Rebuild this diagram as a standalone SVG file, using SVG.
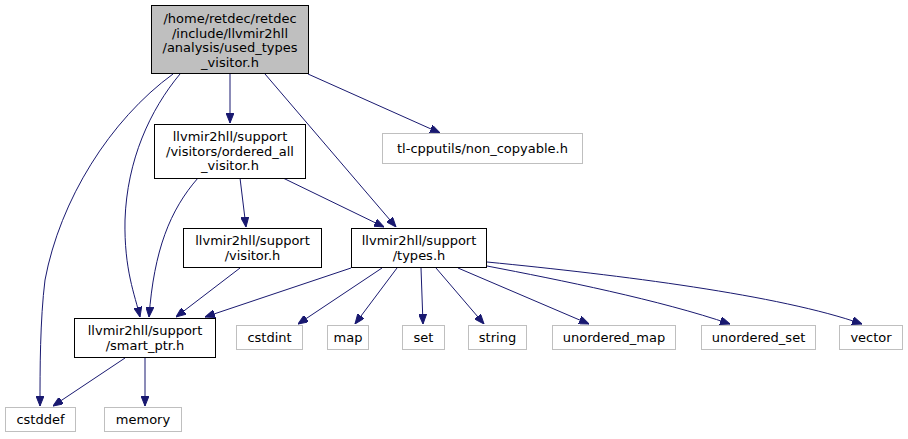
<svg xmlns="http://www.w3.org/2000/svg" width="908" height="439" viewBox="0 0 908 439">
<style>
text{font-family:"DejaVu Sans",sans-serif;font-size:13px;text-anchor:middle;fill:#000}
.n rect{fill:#fff;stroke:#000;stroke-width:1}
.g rect{fill:#fff;stroke:#bfbfbf;stroke-width:1}
.m rect{fill:#bfbfbf;stroke:#000;stroke-width:1}
#edges path{fill:none;stroke:#191970;stroke-width:1;marker-end:url(#ah)}
</style>
<defs>
<marker id="ah" viewBox="0 0 10 8" refX="10" refY="4" markerWidth="10" markerHeight="8" markerUnits="userSpaceOnUse" orient="auto">
<path d="M0,0 L10,4 L0,8 Z" fill="#191970" stroke="#191970"/>
</marker>
</defs>
<rect width="908" height="439" fill="#fff"/>
<g id="edges">
<path d="M173,74 C110,120 60,200 45,280 C40,320 40,370 40,406"/>
<path d="M180,74 C150,110 127,160 125,220 C124,270 135,295 140,317"/>
<path d="M230,74 L230,123"/>
<path d="M265,74 L396,227"/>
<path d="M308,74 L440,133"/>
<path d="M240,178 L246,227"/>
<path d="M283,178 L384,227"/>
<path d="M198,178 C170,210 154,250 149,317"/>
<path d="M240,268 L176,317"/>
<path d="M351,268 L205,317"/>
<path d="M382,268 L298,324"/>
<path d="M397,268 L355,324"/>
<path d="M421,268 L423,324"/>
<path d="M436,268 L484,324"/>
<path d="M458,268 L589,324"/>
<path d="M487,266 C560,280 660,300 730,324"/>
<path d="M487,262 C620,275 780,295 862,324"/>
<path d="M125,358 L53,406"/>
<path d="M145,358 L145,406"/>
</g>
<g id="node_main" class="m">
<rect x="151.5" y="5.5" width="157" height="68"/>
<text x="230" y="23">/home/retdec/retdec</text>
<text x="230" y="37.5">/include/llvmir2hll</text>
<text x="230" y="52">/analysis/used_types</text>
<text x="230" y="66.5">_visitor.h</text>
</g>
<g id="node_ordered" class="n">
<rect x="154.5" y="124.5" width="151" height="54"/>
<text x="230" y="141">llvmir2hll/support</text>
<text x="230" y="155.5">/visitors/ordered_all</text>
<text x="230" y="170">_visitor.h</text>
</g>
<g id="node_noncopyable" class="g">
<rect x="382.5" y="133.5" width="200" height="30"/>
<text x="482.5" y="153">tl-cpputils/non_copyable.h</text>
</g>
<g id="node_visitor" class="n">
<rect x="183.5" y="228.5" width="138" height="39"/>
<text x="252.5" y="245">llvmir2hll/support</text>
<text x="252.5" y="259.5">/visitor.h</text>
</g>
<g id="node_types" class="n">
<rect x="351.5" y="228.5" width="135" height="39"/>
<text x="419" y="245">llvmir2hll/support</text>
<text x="419" y="259.5">/types.h</text>
</g>
<g id="node_smartptr" class="n">
<rect x="74.5" y="318.5" width="141" height="39"/>
<text x="145" y="335">llvmir2hll/support</text>
<text x="145" y="349.5">/smart_ptr.h</text>
</g>
<g id="node_cstdint" class="g"><rect x="236.5" y="325.5" width="66" height="24"/><text x="269.5" y="341.5">cstdint</text></g>
<g id="node_map" class="g"><rect x="327.5" y="325.5" width="41" height="24"/><text x="348" y="341.5">map</text></g>
<g id="node_set" class="g"><rect x="402.5" y="325.5" width="42" height="24"/><text x="423.5" y="341.5">set</text></g>
<g id="node_string" class="g"><rect x="468.5" y="325.5" width="58" height="24"/><text x="497.5" y="341.5">string</text></g>
<g id="node_umap" class="g"><rect x="552.5" y="325.5" width="123" height="24"/><text x="614" y="341.5">unordered_map</text></g>
<g id="node_uset" class="g"><rect x="701.5" y="325.5" width="114" height="24"/><text x="758.5" y="341.5">unordered_set</text></g>
<g id="node_vector" class="g"><rect x="839.5" y="325.5" width="63" height="24"/><text x="871" y="341.5">vector</text></g>
<g id="node_cstddef" class="g"><rect x="5.5" y="407.5" width="70" height="24"/><text x="40.5" y="423.5">cstddef</text></g>
<g id="node_memory" class="g"><rect x="104.5" y="407.5" width="77" height="24"/><text x="143" y="423.5">memory</text></g>
</svg>
